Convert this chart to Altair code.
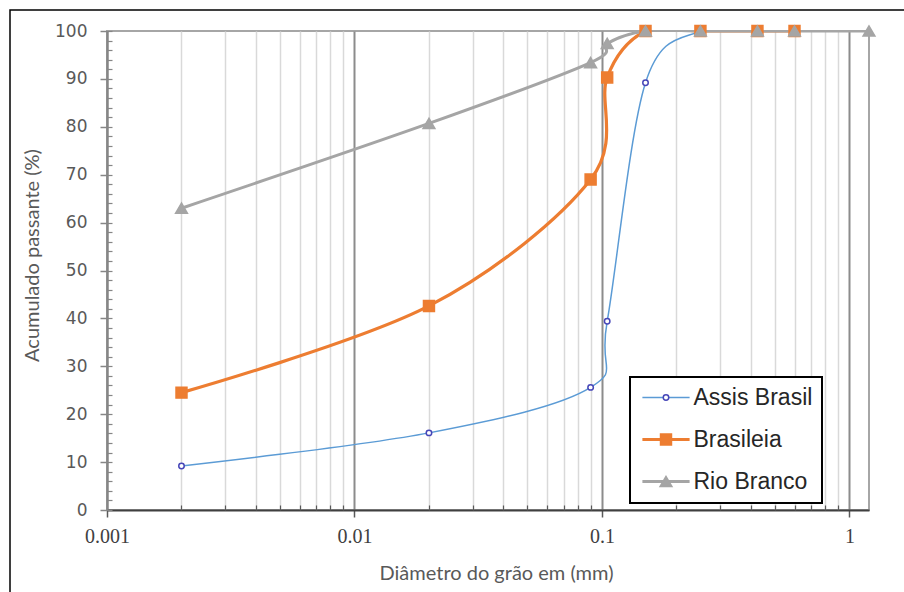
import altair as alt
import pandas as pd

# ---------------- data ----------------
series = ["Assis Brasil", "Brasileia", "Rio Branco"]

assis_d = [0.002, 0.02, 0.09, 0.105, 0.15, 0.25, 0.425, 0.6]
assis_p = [9.2, 16.1, 25.6, 39.4, 89.2, 100, 100, 100]

bras_d = [0.002, 0.02, 0.09, 0.105, 0.15, 0.25, 0.425, 0.6]
bras_p = [24.5, 42.6, 69.0, 90.3, 100, 100, 100, 100]

rio_d = [0.002, 0.02, 0.09, 0.105, 0.15, 0.25, 0.425, 0.6, 1.2]
rio_p = [63.0, 80.7, 93.4, 97.4, 100, 100, 100, 100, 100]

x_major = [0.001, 0.01, 0.1, 1]
x_minor = [0.002, 0.003, 0.004, 0.005, 0.006, 0.007, 0.008, 0.009,
           0.02, 0.03, 0.04, 0.05, 0.06, 0.07, 0.08, 0.09,
           0.2, 0.3, 0.4, 0.5, 0.6, 0.7, 0.8, 0.9]
y_major = [0, 10, 20, 30, 40, 50, 60, 70, 80, 90, 100]
y_minor = list(range(0, 101, 2))
x_domain = [0.001, 1.2]
y_domain = [0, 100]

line_colors = ["#5B9BD5", "#ED7D31", "#A5A5A5"]
line_widths = [1.5, 3.2, 3.0]
marker_shapes = ["circle", "square", "triangle-up"]
marker_fills = ["white", "#ED7D31", "#A5A5A5"]
marker_strokes = ["#4646B8", "#ED7D31", "#A5A5A5"]
marker_sizes = [30, 120, 140]

rows = []
for name, ds, ps in [(series[0], assis_d, assis_p),
                     (series[1], bras_d, bras_p),
                     (series[2], rio_d, rio_p)]:
    for d, p in zip(ds, ps):
        rows.append({"serie": name, "d": d, "p": p})
df = pd.DataFrame(rows)

x_scale = alt.Scale(type="log", domain=x_domain, nice=False)
y_scale = alt.Scale(domain=y_domain, nice=False, zero=True)

arr = "[" + ",".join(str(v) for v in x_major) + "]"
test_major = f"indexof({arr}, datum.value) >= 0"

x_axis_main = alt.Axis(
    values=x_major + x_minor, orient="bottom",
    title="Diâmetro do grão em (mm)",
    labelExpr=f"{test_major} ? format(datum.value, '~g') : ''",
    labelOverlap=False, labelFlush=False,
    labelFont="Liberation Serif", labelFontSize=20, labelColor="#404040",
    labelPadding=9,
    tickSize=7, tickColor="#595959", tickWidth=1.5,
    tickOpacity={"condition": {"test": test_major, "value": 1}, "value": 0},
    grid=True,
    gridColor={"condition": {"test": test_major, "value": "#8C8C8C"}, "value": "#D9D9D9"},
    gridWidth={"condition": {"test": test_major, "value": 2}, "value": 1.5},
    domainColor="#404040", domainWidth=2,
    titleFont="Lato", titleFontSize=20, titleColor="#595959", titleFontWeight="normal",
    titleX=389, titleY=63, titleBaseline="middle",
)
y_axis_main = alt.Axis(
    values=y_major, orient="left",
    title="Acumulado passante  (%)",
    labelFont="DejaVu Sans", labelFontSize=17, labelColor="#595959",
    labelPadding=13,
    tickSize=7, tickColor="#868686", tickWidth=1.5,
    grid=False,
    domainColor="#868686", domainWidth=2,
    titleFont="Lato", titleFontSize=20, titleColor="#595959", titleFontWeight="normal",
    titleX=-75, titleY=224, titleBaseline="middle",
)
x_axis_minor = alt.Axis(values=x_minor, orient="bottom", offset=-5, tickSize=5,
                        tickColor="#595959", tickWidth=1.2, labels=False, domain=False,
                        grid=False, title=None)
y_axis_minor = alt.Axis(values=y_minor, orient="left", offset=-5, tickSize=5,
                        tickColor="#868686", tickWidth=1.2, labels=False, domain=False,
                        grid=False, title=None)

common_leg = dict(orient="none", legendX=523, legendY=346, title=None,
                  labelFont="Liberation Sans", labelFontSize=23, labelColor="#262626",
                  labelOffset=16, symbolOffset=15.5, padding=9, rowPadding=18)
leg_line = alt.Legend(symbolType="M-2.95,0H2.95", symbolSize=256,
                      strokeColor="black", fillColor="white", **common_leg)
leg_pts = alt.Legend(labelOpacity=0, strokeColor="transparent",
                     symbolStrokeWidth=1.5, **common_leg)

base = alt.Chart(df)

lines = base.mark_line(interpolate="cardinal", tension=0, clip=True).encode(
    x=alt.X("d:Q", scale=x_scale, axis=x_axis_main),
    y=alt.Y("p:Q", scale=y_scale, axis=y_axis_main),
    color=alt.Color("serie:N", scale=alt.Scale(domain=series, range=line_colors),
                    legend=leg_line),
    strokeWidth=alt.StrokeWidth("serie:N",
                                scale=alt.Scale(type="ordinal", domain=series, range=line_widths),
                                legend=leg_line),
    detail="serie:N",
)

points = base.mark_point(filled=True, opacity=1, strokeWidth=1.5).encode(
    x=alt.X("d:Q", scale=x_scale, axis=None),
    y=alt.Y("p:Q", scale=y_scale, axis=None),
    fill=alt.Fill("serie:N", scale=alt.Scale(range=marker_fills), legend=leg_pts),
    stroke=alt.Stroke("serie:N", scale=alt.Scale(range=marker_strokes), legend=leg_pts),
    shape=alt.Shape("serie:N", scale=alt.Scale(range=marker_shapes), legend=leg_pts),
    size=alt.Size("serie:N", scale=alt.Scale(type="ordinal", range=marker_sizes), legend=leg_pts),
)

minor_ticks = base.mark_point(opacity=0).encode(
    x=alt.X("d:Q", scale=x_scale, axis=x_axis_minor),
    y=alt.Y("p:Q", scale=y_scale, axis=y_axis_minor),
)

frame = alt.Chart(alt.Data(values=[{}])).mark_rect(
    fill="transparent", stroke="black", strokeWidth=1.5
).encode(x=alt.value(-97), x2=alt.value(900), y=alt.value(-21), y2=alt.value(700))

chart = alt.layer(frame, lines, points, minor_ticks).resolve_axis(
    x="independent", y="independent"
).properties(
    width=762, height=479,
    autosize=alt.AutoSizeParams(type="none"),
    padding={"left": 107, "top": 31, "right": 35, "bottom": 82},
).configure_view(stroke="#A6A6A6", strokeWidth=2).configure_legend(strokeWidth=2)

chart.save("out.html", embed_options={"renderer": "svg", "actions": False})
